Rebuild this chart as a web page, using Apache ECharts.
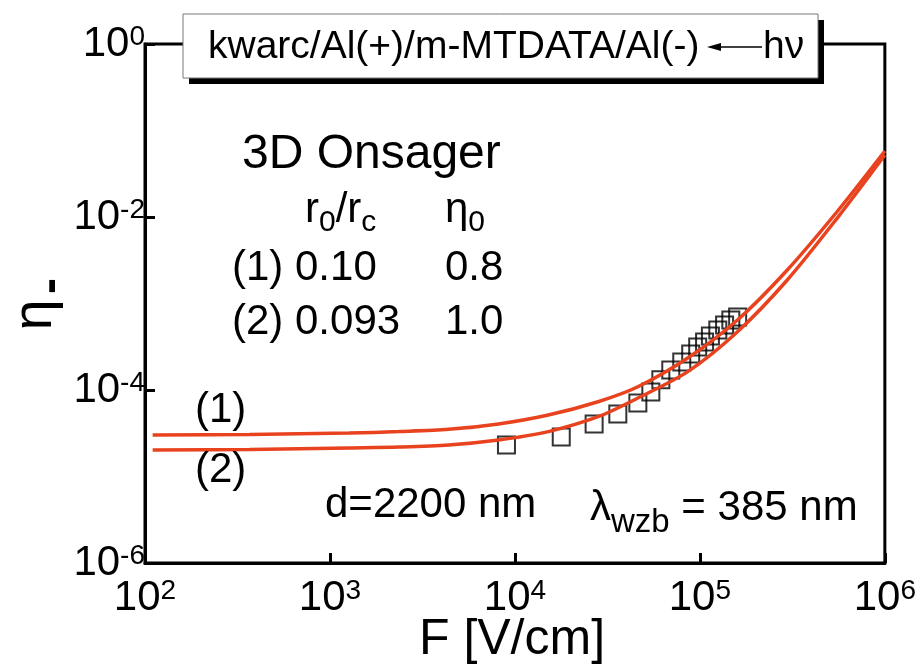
<!DOCTYPE html>
<html><head><meta charset="utf-8">
<script src="https://cdn.jsdelivr.net/npm/echarts@6/dist/echarts.min.js"></script>
<style>html,body{margin:0;padding:0;background:#fff}#c{width:919px;height:670px}</style>
</head><body><div id="c"></div>
<script>
// Data
const dataF = [9000, 17800, 26800, 36000, 46200, 54300, 61500, 69600, 79800, 89200, 97300, 106000, 114000, 125000, 136000, 147000, 160000];
const dataEta = [2.31e-5, 2.86e-5, 4.04e-5, 5.28e-5, 7.08e-5, 9.5e-5, 1.31e-4, 1.70e-4, 2.11e-4, 2.6e-4, 3.14e-4, 3.59e-4, 4.21e-4, 4.94e-4, 5.64e-4, 6.44e-4, 6.98e-4];
const curveF = [110, 368, 1269, 2359, 4385, 8152, 15150, 28150, 46220, 85940, 159700, 296800, 551400, 1000000];
const curve1 = [3.02e-5, 3.06e-5, 3.18e-5, 3.31e-5, 3.51e-5, 4.05e-5, 5.14e-5, 7.32e-5, 1.09e-4, 2.34e-4, 6.45e-4, 2.44e-3, 1.15e-2, 5.79e-2];
const curve2 = [2.02e-5, 2.05e-5, 2.14e-5, 2.19e-5, 2.31e-5, 2.64e-5, 3.30e-5, 4.91e-5, 8.08e-5, 1.63e-4, 4.72e-4, 1.87e-3, 9.66e-3, 5.21e-2];
const xTicks = [100, 1000, 10000, 100000, 1000000];
const yTicks = [1e-6, 1e-4, 1e-2, 1];

const FONT = '"Liberation Sans", Arial, sans-serif';
const RED = '#E8421E';
const chart = echarts.init(document.getElementById('c'));
const expLabel = v => '{b|10}{s|' + Math.round(Math.log10(v)) + '}';
const rich = {
  b: {fontSize: 42, fontFamily: FONT, color: '#000'},
  s: {fontSize: 28, fontFamily: FONT, color: '#000', padding: [0, 0, 13, 0]}
};
const richTxt = (x, y, text, richDef) => ({
  type: 'text', x: x, y: y, z: 10,
  style: {text: text, rich: richDef, fontFamily: FONT, fill: '#000', verticalAlign: 'middle', align: 'left'}
});
const rStd = {
  m: {fontSize: 42, fontFamily: FONT, color: '#000'},
  d: {fontSize: 30, fontFamily: FONT, color: '#000', padding: [26, 0, 0, 0]}
};
const txt = (x, y, s, size) => ({type: 'text', x: x, y: y, z: 10,
  style: {text: s, fontSize: size, fontFamily: FONT, fill: '#000', verticalAlign: 'middle'}});

chart.setOption({
  animation: false,
  backgroundColor: '#fff',
  grid: {left: 145, right: 31, top: 44, bottom: 107, show: true, borderColor: '#000', borderWidth: 3, backgroundColor: 'transparent'},
  xAxis: {
    type: 'log', logBase: 10, min: xTicks[0], max: xTicks[xTicks.length - 1], interval: 1,
    axisLine: {lineStyle: {color: '#000', width: 3}},
    axisTick: {inside: true, length: 10, lineStyle: {color: '#000', width: 3}},
    minorTick: {show: false}, splitLine: {show: false},
    axisLabel: {margin: 14, formatter: expLabel, rich: rich}
  },
  yAxis: {
    type: 'log', logBase: 10, min: yTicks[0], max: yTicks[yTicks.length - 1], interval: 2,
    axisLine: {lineStyle: {color: '#000', width: 3}},
    axisTick: {inside: true, length: 10, lineStyle: {color: '#000', width: 3}},
    minorTick: {show: false}, splitLine: {show: false},
    axisLabel: {margin: 0, formatter: expLabel, rich: rich}
  },
  series: [
    {type: 'scatter', data: dataF.map((f, i) => [f, dataEta[i]]), symbol: 'rect', symbolSize: 17,
     itemStyle: {color: 'rgba(0,0,0,0)', borderColor: '#000', borderWidth: 2}, z: 2},
    {type: 'line', data: curveF.map((f, i) => [f, curve1[i]]), smooth: 0.3, showSymbol: false,
     lineStyle: {color: RED, width: 3.5}, z: 3},
    {type: 'line', data: curveF.map((f, i) => [f, curve2[i]]), smooth: 0.3, showSymbol: false,
     lineStyle: {color: RED, width: 3.5}, z: 3}
  ],
  graphic: [
    {type: 'rect', shape: {x: 189, y: 20, width: 635, height: 64}, style: {fill: '#000'}, z: 20},
    {type: 'rect', shape: {x: 183, y: 14, width: 635, height: 64}, style: {fill: '#fff', stroke: '#777', lineWidth: 1}, z: 21},
    {type: 'text', x: 208, y: 47, z: 22, style: {text: 'kwarc/Al(+)/m-MTDATA/Al(-)', fontSize: 39, fontFamily: FONT, fill: '#000', verticalAlign: 'middle'}},
    {type: 'line', shape: {x1: 718, y1: 47, x2: 762, y2: 47}, style: {stroke: '#000', lineWidth: 1.5}, z: 22},
    {type: 'polygon', shape: {points: [[707, 47], [721, 43], [721, 51]]}, style: {fill: '#000'}, z: 22},
    {type: 'text', x: 763, y: 47, z: 22, style: {text: 'hν', fontSize: 39, fontFamily: FONT, fill: '#000', verticalAlign: 'middle'}},
    txt(242, 155, '3D Onsager', 48),
    richTxt(305, 210, '{m|r}{d|0}{m|/r}{d|c}', rStd),
    richTxt(445, 210, '{m|η}{d|0}', rStd),
    txt(232, 268, '(1) 0.10', 42),
    txt(445, 268, '0.8', 42),
    txt(232, 322, '(2) 0.093', 42),
    txt(445, 322, '1.0', 42),
    txt(195, 410, '(1)', 42),
    txt(195, 470, '(2)', 42),
    txt(325, 505, 'd=2200 nm', 42),
    richTxt(590, 508, '{m|λ}{d|wzb}{m| = 385 nm}', {
      m: {fontSize: 42, fontFamily: FONT, color: '#000'},
      d: {fontSize: 33, fontFamily: FONT, color: '#000', padding: [30, 0, 0, 0]}
    }),
    {type: 'text', x: 512, y: 640, z: 10, style: {text: 'F [V/cm]', fontSize: 50, fontFamily: FONT, fill: '#000', align: 'center', verticalAlign: 'middle'}},
    {type: 'text', x: 36, y: 315, rotation: Math.PI / 2, z: 10,
     style: {text: 'η', fontSize: 56, fontFamily: FONT, fill: '#000', align: 'center', verticalAlign: 'middle'}},
    {type: 'text', x: 52, y: 286, rotation: Math.PI / 2, z: 10,
     style: {text: '-', fontSize: 48, fontWeight: 'bold', fontFamily: FONT, fill: '#000', align: 'center', verticalAlign: 'middle'}}
  ]
});
</script></body></html>
